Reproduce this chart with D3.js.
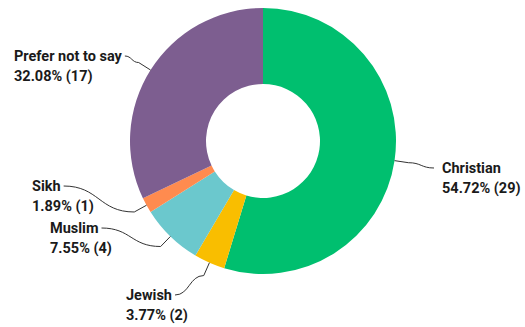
<!DOCTYPE html>
<html>
  <head>
    <meta charset="UTF-8" />
    <title>Religion</title>
    <script src="https://cdn.jsdelivr.net/npm/d3@7"></script>
    <style>
      body {
        margin: 0;
        background: #fff;
      }
      .label {
        font-family: Roboto, "Liberation Sans", sans-serif;
        font-weight: bold;
        font-size: 14.5px;
        fill: #1a1a1a;
      }
      .leader {
        fill: none;
        stroke: #333;
        stroke-width: 1;
      }
    </style>
  </head>
  <body>
    <svg width="525" height="327"></svg>
    <script>
      var categories = ["Christian", "Jewish", "Muslim", "Sikh", "Prefer not to say"];
      var percents = [54.72, 3.77, 7.55, 1.89, 32.08];
      var counts = [29, 2, 4, 1, 17];
      var colors = ["#00bf6f", "#f9be00", "#6bc8cd", "#ff8b4f", "#7d5e90"];

      // where each label's first line sits (x, baseline)
      var labelPos = [
        [442, 173],
        [126, 300],
        [50, 233],
        [32, 191],
        [14, 61],
      ];

      var svg = d3.select("svg"),
        cx = 263,
        cy = 141,
        outer = 133,
        inner = 57,
        lineGap = 19.5;

      var data = categories.map(function (c, i) {
        return { name: c, pct: percents[i], n: counts[i], i: i };
      });

      var pie = d3.pie().sort(null).value(function (d) {
        return d.pct;
      });
      var arc = d3.arc().innerRadius(inner).outerRadius(outer);

      var g = svg.append("g").attr("transform", "translate(" + cx + "," + cy + ")");

      var arcs = pie(data);

      g.selectAll("path.slice")
        .data(arcs)
        .enter()
        .append("path")
        .attr("class", "slice")
        .attr("d", arc)
        .attr("fill", function (d) {
          return colors[d.data.i];
        });

      // labels
      var labels = svg
        .selectAll("g.lab")
        .data(arcs)
        .enter()
        .append("g")
        .attr("class", "lab");

      labels
        .append("text")
        .attr("class", "label")
        .attr("x", function (d) {
          return labelPos[d.data.i][0];
        })
        .attr("y", function (d) {
          return labelPos[d.data.i][1];
        })
        .text(function (d) {
          return d.data.name;
        });

      labels
        .append("text")
        .attr("class", "label")
        .attr("x", function (d) {
          return labelPos[d.data.i][0];
        })
        .attr("y", function (d) {
          return labelPos[d.data.i][1] + lineGap;
        })
        .text(function (d) {
          return d.data.pct.toFixed(2) + "% (" + d.data.n + ")";
        });

      // leader lines
      labels.each(function (d) {
        var mid = (d.startAngle + d.endAngle) / 2;
        var sx = Math.sin(mid),
          sy = -Math.cos(mid);
        var p0 = [cx + outer * sx, cy + outer * sy];
        var p1 = [cx + (outer + 14) * sx, cy + (outer + 14) * sy];
        var first = d3.select(this).select("text").node();
        var w = first.getComputedTextLength();
        var pos = labelPos[d.data.i];
        var right = sx > 0;
        var p2 = right ? [pos[0] - 8, pos[1] - 5] : [pos[0] + w + 3, pos[1] - 5];
        var mx = (p1[0] + p2[0]) / 2;
        var path = d3.path();
        path.moveTo(p0[0], p0[1]);
        path.lineTo(p1[0], p1[1]);
        path.bezierCurveTo(mx, p1[1], mx, p2[1], p2[0], p2[1]);
        d3.select(this)
          .insert("path", "text")
          .attr("class", "leader")
          .attr("d", path.toString());
      });
    </script>
  </body>
</html>
